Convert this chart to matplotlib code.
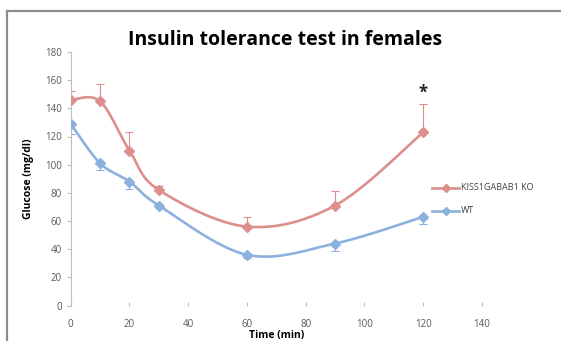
import numpy as np
import matplotlib
matplotlib.use('Agg')
import matplotlib.pyplot as plt
from matplotlib.lines import Line2D

# Time points and glucose readings
time_min = [0, 10, 20, 30, 60, 90, 120]
ko_glucose = [146, 145, 110, 82, 56, 71, 123]
ko_err_up = [6, 12, 13, 3, 7, 10, 20]
wt_glucose = [129, 101, 88, 71, 36, 44, 63]
wt_err_down = [7, 5, 5, 2, 2, 5, 5]

series_names = ["KISS1GABAB1 KO", "WT"]
x_ticks = [0, 20, 40, 60, 80, 100, 120, 140]
y_ticks = [0, 20, 40, 60, 80, 100, 120, 140, 160, 180]

KO_COLOR = '#dc8f8c'
WT_COLOR = '#8db1df'
TICK_COLOR = '#595959'


def smooth(xs, ys, n=30):
    # Bezier smoothing through every point (spreadsheet-style smoothed line)
    xs = np.asarray(xs, float)
    ys = np.asarray(ys, float)
    pts = np.column_stack([xs, ys])
    out = []
    for i in range(len(pts) - 1):
        p0 = pts[max(i - 1, 0)]
        p1 = pts[i]
        p2 = pts[i + 1]
        p3 = pts[min(i + 2, len(pts) - 1)]
        c1 = p1 + (p2 - p0) / 6.0
        c2 = p2 - (p3 - p1) / 6.0
        t = np.linspace(0, 1, n)[:, None]
        seg = ((1 - t) ** 3) * p1 + 3 * ((1 - t) ** 2) * t * c1 + 3 * (1 - t) * t ** 2 * c2 + t ** 3 * p2
        out.append(seg if i == 0 else seg[1:])
    seg = np.vstack(out)
    return seg[:, 0], seg[:, 1]


fig = plt.figure(figsize=(5.61, 3.41), dpi=100)
plt.rcParams['font.family'] = ['Open Sans', 'DejaVu Sans']

# border lines on top and left of the chart frame
fig.add_artist(Line2D([7 / 561, 7 / 561], [0, 1 - 11 / 341], color='#8c8c8c', lw=1.6))
fig.add_artist(Line2D([7 / 561, 1], [1 - 11 / 341, 1 - 11 / 341], color='#8c8c8c', lw=1.6))

ax = fig.add_axes([70.7 / 561, 1 - 305.5 / 341, (482 - 70.7) / 561, 253.5 / 341])
ax.set_xlim(0, 140)
ax.set_ylim(0, 180)

for ys, color, err in [(ko_glucose, KO_COLOR, ([0] * 7, ko_err_up)),
                       (wt_glucose, WT_COLOR, (wt_err_down, [0] * 7))]:
    sx, sy = smooth(time_min, ys)
    ax.plot(sx, sy, color=color, lw=1.9, solid_capstyle='round', zorder=3)
    ax.errorbar(time_min, ys, yerr=err, fmt='none', ecolor=color, elinewidth=0.8,
                capsize=3, capthick=0.8, zorder=2)
    ax.plot(time_min, ys, 'D', color=color, markersize=5, zorder=4)

ax.text(120, 151, '*', ha='center', va='center', fontsize=12, fontweight='bold', color='#222222')

for s in ['top', 'right', 'bottom']:
    ax.spines[s].set_visible(False)
ax.spines['left'].set_color('#bfbfbf')
ax.spines['left'].set_linewidth(0.8)

ax.set_xticks(x_ticks)
ax.set_yticks(y_ticks)
ax.tick_params(axis='both', labelsize=7, colors='#bfbfbf', labelcolor=TICK_COLOR, length=3, width=0.8)
ax.tick_params(axis='x', direction='in', pad=10)

ax.set_title('Insulin tolerance test in females', fontsize=14, fontweight='bold', pad=5, x=0.52)
ax.set_ylabel('Glucose (mg/dl)', fontsize=7.5, fontweight='bold', labelpad=8)
ax.set_xlabel('Time (min)', fontsize=7.5, fontweight='bold', labelpad=0)

# legend drawn in figure pixels
for name, color, ypix in [(series_names[0], KO_COLOR, 187.7), (series_names[1], WT_COLOR, 210.7)]:
    yf = 1 - ypix / 341
    fig.add_artist(Line2D([432 / 561, 459 / 561], [yf, yf], color=color, lw=1.9))
    fig.add_artist(Line2D([446 / 561], [yf], marker='D', color=color, markersize=4))
    fig.text(461 / 561, yf, name, fontsize=6.5, va='center', ha='left', color='#404040')

fig.savefig('out.png', dpi=100)
